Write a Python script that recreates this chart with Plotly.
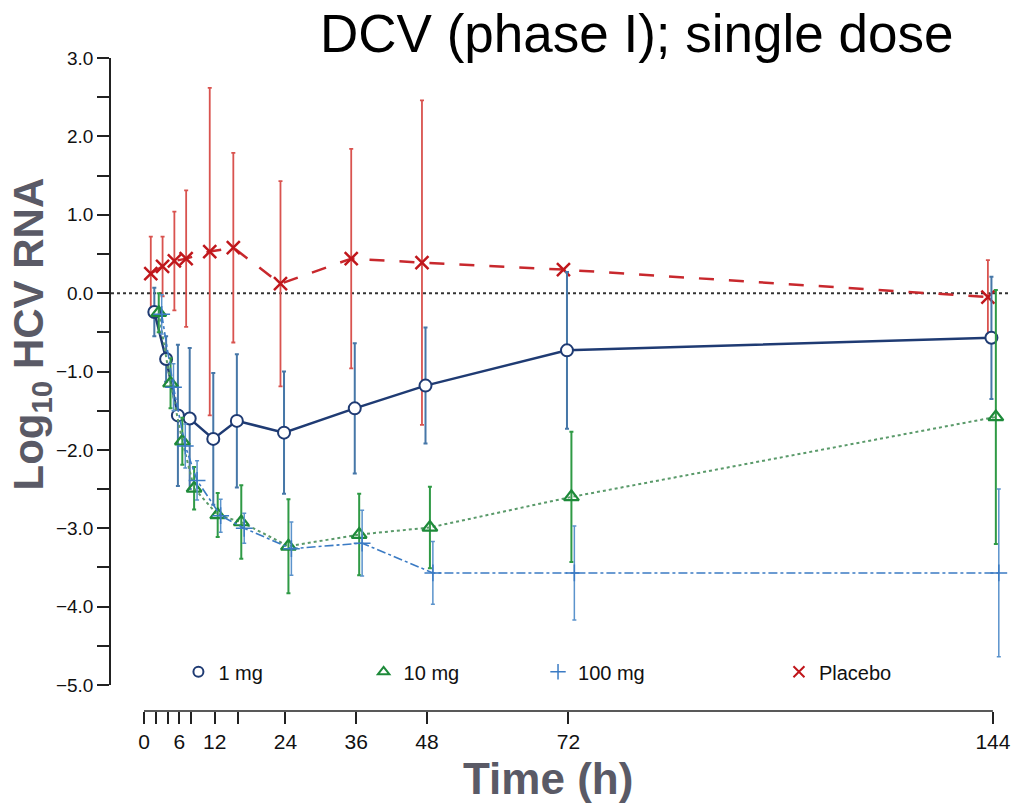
import plotly.graph_objects as go

# ---- data ----
times = [2, 4, 6, 8, 12, 16, 24, 36, 48, 72, 144]
tick_vals = [0, 6, 12, 24, 36, 48, 72, 144]
tick_text = ["0", "6", "12", "24", "36", "48", "72", "144"]
minor_tick_vals = [2, 4, 8, 16]
y_tick_vals = [3.0, 2.0, 1.0, 0.0, -1.0, -2.0, -3.0, -4.0, -5.0]
y_tick_text = ["3.0", "2.0", "1.0", "0.0", "\u22121.0", "\u22122.0", "\u22123.0", "\u22124.0", "\u22125.0"]

placebo_mean = [0.25, 0.34, 0.41, 0.44, 0.53, 0.58, 0.12, 0.44, 0.39, 0.30, -0.05]
placebo_sd = [0.47, 0.38, 0.63, 0.87, 2.09, 1.21, 1.31, 1.40, 2.07, 0.0, 0.47]

mg1_mean = [-0.24, -0.84, -1.56, -1.60, -1.86, -1.63, -1.78, -1.47, -1.18, -0.73, -0.57]
mg1_sd = [0.31, 0.29, 0.90, 0.90, 0.84, 0.85, 0.78, 0.83, 0.74, 1.00, 0.78]

mg10_mean = [-0.25, -1.15, -1.89, -2.49, -2.83, -2.92, -3.23, -3.08, -2.99, -2.60, -1.58]
mg10_sd = [0.25, 0.32, 0.30, 0.27, 0.28, 0.47, 0.60, 0.52, 0.52, 0.83, 1.62]

mg100_mean = [-0.27, -1.20, -1.95, -2.39, -2.84, -3.00, -3.26, -3.19, -3.57, -3.57, -3.57]
mg100_sd = [0.25, 0.30, 0.28, 0.25, 0.21, 0.19, 0.34, 0.42, 0.40, 0.60, 1.07]

# horizontal dodge (hours) per group
dodge = {"Placebo": -0.85, "1 mg": -0.25, "10 mg": 0.5, "100 mg": 1.0}

FONT = "Liberation Sans, Arial, Helvetica, sans-serif"

fig = go.Figure()

def shifted(name):
    return [t + dodge[name] for t in times]

# Placebo
fig.add_trace(go.Scatter(
    x=shifted("Placebo"), y=placebo_mean, mode="lines+markers",
    line=dict(color="#c8282d", width=2.5, dash="longdash"),
    marker=dict(symbol="x-thin", size=13, line=dict(color="#c0171c", width=2.5)),
    error_y=dict(type="data", array=placebo_sd, color="#d9534f", thickness=1.8, width=2),
    showlegend=False, cliponaxis=False))

# 1 mg
fig.add_trace(go.Scatter(
    x=shifted("1 mg"), y=mg1_mean, mode="lines+markers",
    line=dict(color="#1f3b73", width=2.5),
    marker=dict(symbol="circle", size=12, color="white", line=dict(color="#1f3b73", width=2)),
    error_y=dict(type="data", array=mg1_sd, color="#4677a8", thickness=2, width=2),
    showlegend=False, cliponaxis=False))

# 10 mg
fig.add_trace(go.Scatter(
    x=shifted("10 mg"), y=mg10_mean, mode="lines+markers",
    line=dict(color="#5a9a6a", width=2, dash="dot"),
    marker=dict(symbol="triangle-up-open", size=13, color="#1e8a3a", line=dict(color="#1e8a3a", width=2.2)),
    error_y=dict(type="data", array=mg10_sd, color="#2f9a45", thickness=2, width=2),
    showlegend=False, cliponaxis=False))

# 100 mg
fig.add_trace(go.Scatter(
    x=shifted("100 mg"), y=mg100_mean, mode="lines+markers",
    line=dict(color="#3b7bc4", width=1.6, dash="dashdot"),
    marker=dict(symbol="cross-thin", size=12, line=dict(color="#3b7bc4", width=1.5)),
    error_y=dict(type="data", array=mg100_sd, color="#5b93cc", thickness=1.5, width=2),
    showlegend=False, cliponaxis=False))

# legend entries (markers only), one legend each so they can be spaced like the original
leg_items = [
    ("1 mg", dict(symbol="circle-open", size=10, color="#1f3b73", line=dict(width=2)), "legend", 0.075),
    ("10 mg", dict(symbol="triangle-up-open", size=10, color="#1e8a3a", line=dict(width=2)), "legend2", 0.281),
    ("100 mg", dict(symbol="cross-thin", size=11, line=dict(color="#3b7bc4", width=1.5)), "legend3", 0.475),
    ("Placebo", dict(symbol="x-thin", size=11, line=dict(color="#c0171c", width=2)), "legend4", 0.743),
]
legend_layout = {}
for name, mk, lg, xpos in leg_items:
    fig.add_trace(go.Scatter(x=[None], y=[None], mode="markers", name=name,
                             marker=mk, legend=lg, showlegend=True))
    legend_layout[lg] = dict(x=xpos, y=0.06, xanchor="left", yanchor="middle",
                             bgcolor="rgba(0,0,0,0)", itemwidth=30,
                             font=dict(family=FONT, size=20, color="#111"))

fig.update_layout(
    width=1013, height=805,
    margin=dict(l=111, r=3, t=58, b=94, autoexpand=False),
    plot_bgcolor="white", paper_bgcolor="white",
    font=dict(family=FONT),
    xaxis=dict(range=[-5.6, 146.9], tickmode="array", tickvals=tick_vals, ticktext=tick_text,
               ticks="outside", ticklen=12, tickwidth=1.5, tickcolor="#222",
               minor=dict(tickmode="array", tickvals=minor_tick_vals, ticks="outside",
                          ticklen=12, tickwidth=1.5, tickcolor="#222"),
               showline=False, showgrid=False, zeroline=False, automargin=False,
               tickfont=dict(family=FONT, size=21, color="#111"),
               anchor="free", position=0),
    yaxis=dict(range=[-5, 3], domain=[0.0398, 1], tickmode="array",
               tickvals=y_tick_vals, ticktext=y_tick_text,
               ticks="outside", ticklen=12, tickwidth=1.5, tickcolor="#222",
               minor=dict(dtick=0.5, tick0=0, ticks="outside", ticklen=12,
                          tickwidth=1.5, tickcolor="#222"),
               showline=True, linecolor="#222", linewidth=1.5, automargin=False,
               showgrid=False, zeroline=False,
               tickfont=dict(family=FONT, size=19, color="#111")),
    shapes=[
        dict(type="line", xref="x", yref="paper", x0=0, x1=144, y0=0, y1=0,
             line=dict(color="#222", width=1.5)),
        dict(type="line", xref="paper", yref="y", x0=0, x1=1, y0=0, y1=0,
             line=dict(color="#333", width=2, dash="dot"), layer="below"),
    ],
    annotations=[
        dict(text="DCV (phase I); single dose", xref="paper", yref="paper",
             x=0.584, y=1.038, showarrow=False, xanchor="center", yanchor="middle",
             font=dict(family=FONT, size=53, color="#000")),
        dict(text="<b>Time (h)</b>", xref="paper", yref="paper",
             x=0.486, y=-0.103, showarrow=False, xanchor="center", yanchor="middle",
             font=dict(family=FONT, size=44, color="#5a5a66")),
        dict(text="<b>Log<sub>10</sub> HCV RNA</b>", xref="paper", yref="paper",
             x=-0.088, y=0.578, showarrow=False, textangle=-90,
             xanchor="center", yanchor="middle",
             font=dict(family=FONT, size=42, color="#5a5a66")),
    ],
    **legend_layout,
)

fig.write_html("out.html", config={"displayModeBar": False},
               post_script="document.body.style.margin='0';")
